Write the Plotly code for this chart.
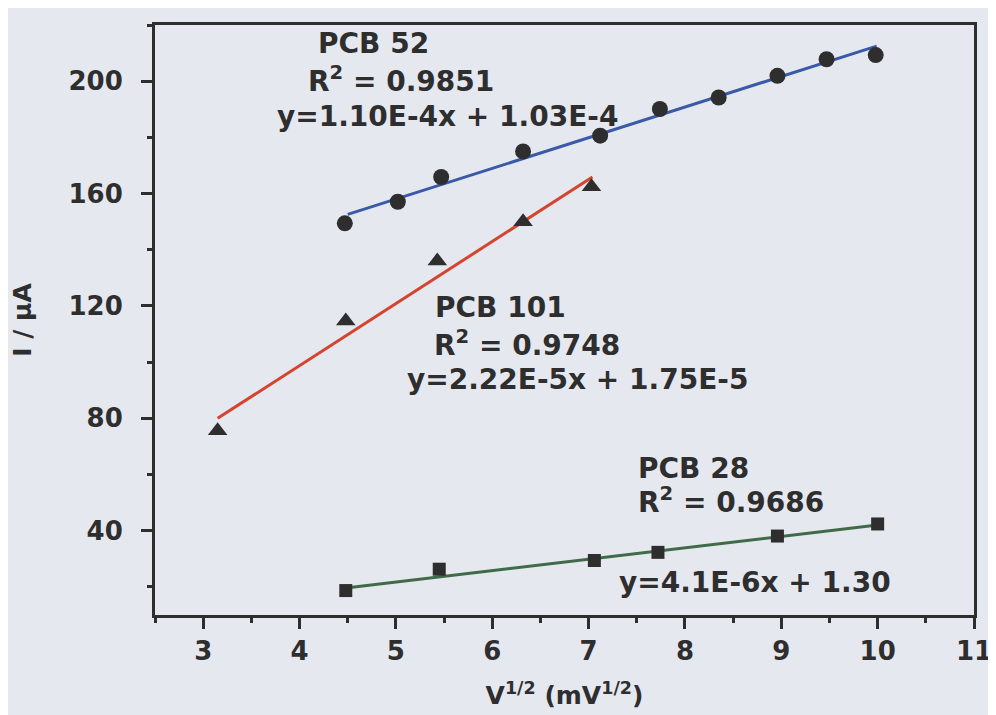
import plotly.graph_objects as go

# PCB 52 (circles)
pcb52_x = [4.47, 5.02, 5.47, 6.32, 7.12, 7.74, 8.35, 8.96, 9.47, 9.98]
pcb52_y = [149.4, 157.1, 165.9, 175.0, 180.6, 190.1, 194.2, 201.9, 207.8, 209.3]
pcb52_fit_x = [4.50, 9.99]
pcb52_fit_y = [152.6, 212.5]

# PCB 101 (triangles)
pcb101_x = [3.15, 4.48, 5.43, 6.32, 7.03]
pcb101_y = [75.6, 114.6, 136.0, 150.0, 162.4]
pcb101_fit_x = [3.15, 7.04]
pcb101_fit_y = [80.0, 165.9]

# PCB 28 (squares)
pcb28_x = [4.48, 5.45, 7.06, 7.72, 8.96, 10.0]
pcb28_y = [18.7, 26.3, 29.4, 32.3, 38.1, 42.4]
pcb28_fit_x = [4.48, 10.0]
pcb28_fit_y = [19.6, 42.0]

x_ticks = [3, 4, 5, 6, 7, 8, 9, 10, 11]
y_ticks = [40, 80, 120, 160, 200]

BG = "#e6e8f0"
INK = "#2e2e2e"
FONT = "DejaVu Sans, Liberation Sans, Arial, sans-serif"

fig = go.Figure()

fig.add_trace(go.Scatter(x=pcb52_fit_x, y=pcb52_fit_y, mode="lines",
                         line=dict(color="#3a5aa8", width=3), showlegend=False))
fig.add_trace(go.Scatter(x=pcb101_fit_x, y=pcb101_fit_y, mode="lines",
                         line=dict(color="#d4452f", width=3), showlegend=False))
fig.add_trace(go.Scatter(x=pcb28_fit_x, y=pcb28_fit_y, mode="lines",
                         line=dict(color="#3f6b48", width=3), showlegend=False))

fig.add_trace(go.Scatter(x=pcb52_x, y=pcb52_y, mode="markers",
                         marker=dict(symbol="circle", size=16, color=INK), showlegend=False))
fig.add_trace(go.Scatter(x=pcb101_x, y=pcb101_y, mode="markers",
                         marker=dict(symbol="triangle-up", size=17, color=INK), showlegend=False))
fig.add_trace(go.Scatter(x=pcb28_x, y=pcb28_y, mode="markers",
                         marker=dict(symbol="square", size=13, color=INK), showlegend=False))

ann_font = dict(family=FONT, size=28, color=INK)
annotations = [
    ("<b>PCB 52</b>", 4.17, 213.5),
    ("<b>R<sup>2</sup> = 0.9851</b>", 4.07, 200.7),
    ("<b>y=1.10E-4x + 1.03E-4</b>", 3.745, 187.5),
    ("<b>PCB 101</b>", 5.38, 119.3),
    ("<b>R<sup>2</sup> = 0.9748</b>", 5.37, 106.5),
    ("<b>y=2.22E-5x + 1.75E-5</b>", 5.09, 93.8),
    ("<b>PCB 28</b>", 7.49, 62.2),
    ("<b>R<sup>2</sup> = 0.9686</b>", 7.49, 50.6),
    ("<b>y=4.1E-6x + 1.30</b>", 7.30, 21.5),
]
for text, ax_, ay_ in annotations:
    fig.add_annotation(x=ax_, y=ay_, text=text, showarrow=False,
                       xanchor="left", yanchor="middle", font=ann_font)

axis_common = dict(
    showline=True, linewidth=3, linecolor=INK, mirror=True,
    ticks="outside", ticklen=11, tickwidth=3, tickcolor=INK,
    showgrid=False, zeroline=False,
    tickfont=dict(family=FONT, size=26, color=INK),
    ticklabeloverflow="allow",
)

fig.update_xaxes(
    range=[2.5, 11], tickvals=x_ticks, ticktext=[f"<b>{t}</b>" for t in x_ticks],
    ticklabelstandoff=0,
    minor=dict(ticks="outside", ticklen=5, tickwidth=3, tickcolor=INK, dtick=0.5, tick0=2.5),
    title=dict(text="<b>V<sup>1/2</sup> (mV<sup>1/2</sup>)</b>",
               font=dict(family=FONT, size=25, color=INK), standoff=22),
    **axis_common,
)
fig.update_yaxes(
    range=[10, 220], tickvals=y_ticks, ticktext=[f"<b>{t}</b>" for t in y_ticks],
    ticklabelstandoff=13,
    minor=dict(ticks="outside", ticklen=5, tickwidth=3, tickcolor=INK, dtick=20, tick0=0),
    title=dict(text="<b>I / μA</b>", font=dict(family=FONT, size=25, color=INK), standoff=30),
    **axis_common,
)

fig.update_layout(
    width=996, height=715,
    margin=dict(l=147, r=18, t=17, b=108),
    paper_bgcolor=BG, plot_bgcolor=BG,
    showlegend=False,
)

fig.write_html("out.html")
